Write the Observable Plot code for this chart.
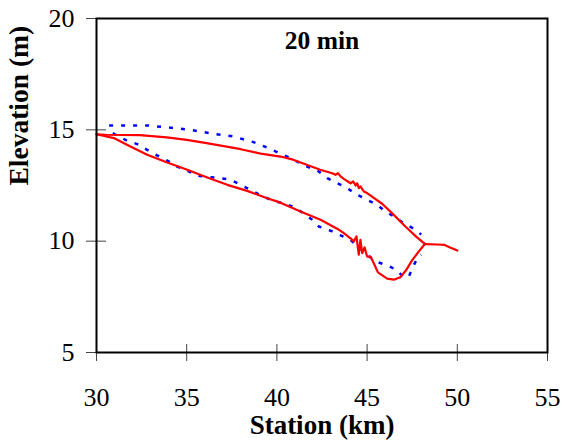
<!DOCTYPE html>
<html><head><meta charset="utf-8">
<script src="https://cdn.jsdelivr.net/npm/d3@7"></script>
<script src="https://cdn.jsdelivr.net/npm/@observablehq/plot@0.6"></script>
<style>
body{margin:0;background:#fff}
</style>
</head><body><div id="chart"></div>
<script>
const title = "20 min";
const xLabel = "Station (km)";
const yLabel = "Elevation (m)";
const xTicks = [30, 35, 40, 45, 50, 55];
const yTicks = [5, 10, 15, 20];

// Red solid (computed)
const redUpperX = [30.0, 30.5, 32.4, 33.9, 35.0, 36.1, 38.0, 39.1, 40.2, 40.9, 42.4, 43.06, 43.25, 43.38, 43.53, 43.71, 44.08, 44.23, 44.36, 44.45, 44.54, 44.63, 44.82, 45.0, 45.85, 46.48, 47.12, 47.75, 48.2];
const redUpperY = [14.8, 14.78, 14.76, 14.66, 14.55, 14.4, 14.13, 13.93, 13.8, 13.66, 13.21, 13.05, 12.98, 13.05, 12.91, 12.8, 12.6, 12.68, 12.5, 12.6, 12.38, 12.46, 12.23, 12.16, 11.67, 11.18, 10.66, 10.18, 9.88];

const redLowerX = [30.0, 30.96, 31.88, 32.81, 33.92, 35.03, 36.14, 37.25, 38.35, 39.46, 40.2, 41.31, 42.42, 43.34, 43.71, 44.08, 44.26, 44.41, 44.54, 44.63, 44.73, 44.86, 45.0, 45.19, 45.37, 45.6, 46.11, 46.48, 46.84, 47.15, 47.5, 47.87, 48.2];
const redLowerY = [14.8, 14.63, 14.25, 13.88, 13.53, 13.21, 12.86, 12.53, 12.26, 11.93, 11.73, 11.33, 10.96, 10.56, 10.36, 10.13, 9.99, 10.21, 9.39, 10.06, 9.46, 9.72, 9.31, 9.31, 9.01, 8.6, 8.32, 8.27, 8.38, 8.68, 9.15, 9.54, 9.87];

const redTailX = [48.2, 48.9, 49.3, 49.6, 50.0];
const redTailY = [9.87, 9.85, 9.83, 9.72, 9.58];

// Blue dotted (measured)
const blueUpperX = [30.7, 32.8, 33.9, 35.2, 36.5, 37.6, 38.7, 39.4, 40.57, 41.68, 42.32, 42.79, 43.9, 44.45, 45.0, 45.56, 46.02, 46.48, 47.03, 47.59, 48.0];
const blueUpperY = [15.2, 15.2, 15.11, 15.0, 14.82, 14.7, 14.45, 14.22, 13.8, 13.35, 13.13, 12.83, 12.38, 12.08, 11.86, 11.63, 11.33, 11.11, 10.81, 10.56, 10.3];

const blueLowerX = [30.9, 31.7, 32.26, 32.81, 33.36, 33.95, 34.47, 35.03, 35.58, 36.14, 36.87, 37.43, 37.98, 38.54, 39.09, 39.74, 40.29, 40.85, 41.4, 41.96, 42.32, 42.97, 43.53, 44.08, 45.0, 45.47, 46.02, 46.6, 47.03, 47.31, 47.6, 47.8, 48.0];
const blueLowerY = [14.85, 14.51, 14.36, 14.1, 13.85, 13.61, 13.35, 13.17, 12.95, 12.89, 12.83, 12.76, 12.53, 12.31, 12.06, 11.83, 11.71, 11.56, 11.29, 10.96, 10.66, 10.47, 10.26, 10.06, 9.39, 9.09, 8.94, 8.73, 8.37, 8.41, 8.94, 9.25, 9.39];

function rows(name, xs, ys) { return xs.map((x, i) => ({s: name, x, y: ys[i]})); }
const redRows = [
  ...rows("redUpper", redUpperX, redUpperY),
  ...rows("redLower", redLowerX, redLowerY),
  ...rows("redTail", redTailX, redTailY)
];
const blueRows = [
  ...rows("blueUpper", blueUpperX, blueUpperY),
  ...rows("blueLower", blueLowerX, blueLowerY)
];

const serif = "'Liberation Serif', 'DejaVu Serif', 'Times New Roman', serif";

const chart = Plot.plot({
  width: 565,
  height: 446,
  marginTop: 18,
  marginRight: 18,
  marginBottom: 94,
  marginLeft: 96,
  style: {color: "black", background: "white", overflow: "visible"},
  x: {domain: [30, 55]},
  y: {domain: [5, 20]},
  marks: [
    Plot.axisX(xTicks, {tickSize: 17, dy: -8, tickFormat: () => "", label: null, stroke: "#444"}),
    Plot.axisY(yTicks, {tickSize: 20, dx: 10, tickFormat: () => "", label: null, stroke: "#444"}),
    Plot.axisX(xTicks, {tickSize: 0, tickPadding: 35, fontSize: 26, label: null}),
    Plot.axisY(yTicks, {tickSize: 0, tickPadding: 22, fontSize: 26, label: null}),
    Plot.line(blueRows, {x: "x", y: "y", z: "s", stroke: "#0000ff", strokeWidth: 2.5, strokeDasharray: "4,8", strokeLinecap: "butt"}),
    Plot.line(redRows, {x: "x", y: "y", z: "s", stroke: "#ff0000", strokeWidth: 2.2}),
    Plot.frame({stroke: "black", strokeWidth: 2}),
    Plot.text([title], {frameAnchor: "top", dy: 22, lineAnchor: "middle", fontWeight: "bold", fontSize: 25.5}),
    Plot.text([xLabel], {frameAnchor: "bottom", dy: 73, lineAnchor: "middle", fontWeight: "bold", fontSize: 27}),
    Plot.text([yLabel], {frameAnchor: "left", dx: -77, rotate: -90, lineAnchor: "middle", fontWeight: "bold", fontSize: 27.5})
  ]
});
chart.style.fontFamily = serif;
d3.select(chart).selectAll("text, g").style("font-family", serif);
document.getElementById("chart").appendChild(chart);
</script>
</body></html>
